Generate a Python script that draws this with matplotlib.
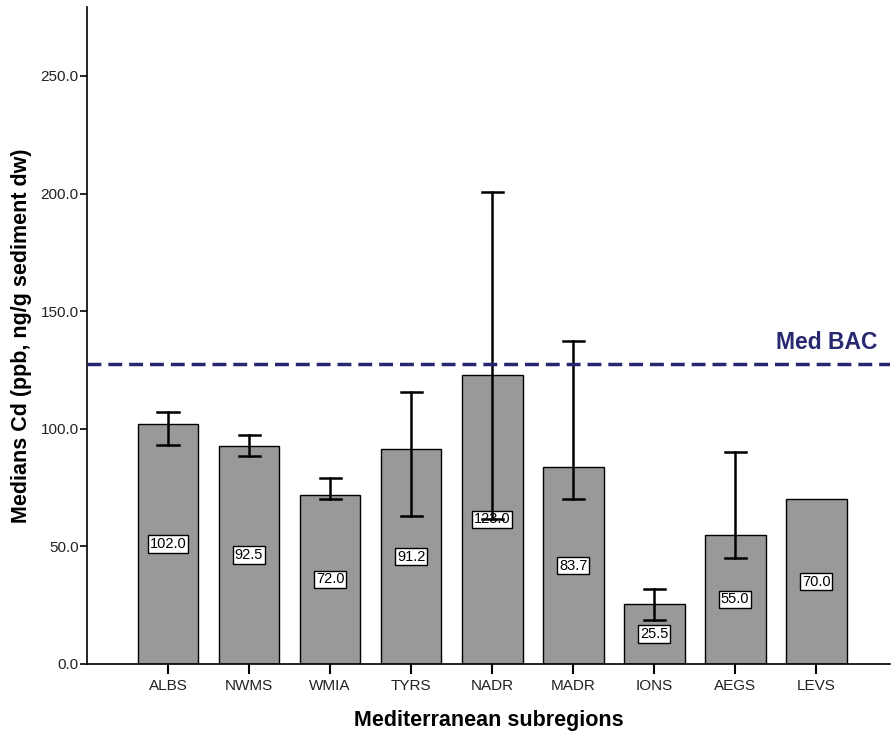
import matplotlib
matplotlib.use('agg')
import matplotlib.pyplot as plt
import numpy as np

plt.rcParams['font.family'] = ['Liberation Sans', 'DejaVu Sans']

# data
regions = ['ALBS', 'NWMS', 'WMIA', 'TYRS', 'NADR', 'MADR', 'IONS', 'AEGS', 'LEVS']
medians = [102.0, 92.5, 72.0, 91.2, 123.0, 83.7, 25.5, 55.0, 70.0]
err_low = [93.0, 88.4, 70.2, 62.9, 61.6, 70.2, 18.7, 44.9, np.nan]
err_high = [107.1, 97.4, 79.1, 115.6, 200.7, 137.3, 32.0, 90.0, np.nan]
med_bac = 127.6

fig = plt.figure(figsize=(8.93, 7.34), dpi=100)
ax = fig.add_axes([0.0974, 0.0954, 0.8992, 0.8951])

x = np.arange(len(regions))
ax.bar(x, medians, width=0.75, color='#999999', edgecolor='black', linewidth=1, zorder=2)

# error bars (lower/upper bounds, not symmetric)
for xi, lo, hi in zip(x, err_low, err_high):
    if np.isnan(lo):
        continue
    ax.plot([xi, xi], [lo, hi], color='black', lw=1.8, zorder=3)
    ax.plot([xi - 0.13, xi + 0.13], [lo, lo], color='black', lw=1.8, zorder=3)
    ax.plot([xi - 0.13, xi + 0.13], [hi, hi], color='black', lw=1.8, zorder=3)

# value labels in the middle of each bar
for xi, v in zip(x, medians):
    ax.text(xi, v / 2, f'{v:.1f}', ha='center', va='center', fontsize=10.5, zorder=2.5,
            bbox=dict(boxstyle='square,pad=0.12', facecolor='white', edgecolor='black', linewidth=1))

ax.axhline(med_bac, color='#27286f', lw=2.5, ls=(0, (4, 2)), zorder=4)
ax.text(8.75, 134.0, 'Med BAC', color='#27286f', fontsize=16.5, fontweight='bold',
        ha='right', va='baseline')

ax.set_xlim(-1, 8.91)
ax.set_ylim(0, 279.3)
ax.set_xticks(x)
ax.set_xticklabels(regions, fontsize=11)
ax.set_yticks(np.arange(0, 251, 50))
ax.set_yticklabels([f'{t:.1f}' for t in np.arange(0, 251, 50)], fontsize=11)
ax.tick_params(axis='x', length=7, width=1.5, pad=4, labelcolor='#222222')
ax.tick_params(axis='y', length=5, width=1.2, pad=1, labelcolor='#222222')

ax.spines['top'].set_visible(False)
ax.spines['right'].set_visible(False)
ax.spines['left'].set_linewidth(1.2)
ax.spines['bottom'].set_linewidth(1.2)

ax.set_xlabel('Mediterranean subregions', fontsize=15.5, fontweight='bold', labelpad=12)
ax.set_ylabel('Medians Cd (ppb, ng/g sediment dw)', fontsize=15.5, fontweight='bold', labelpad=6)

fig.savefig('out.png', dpi=100)
